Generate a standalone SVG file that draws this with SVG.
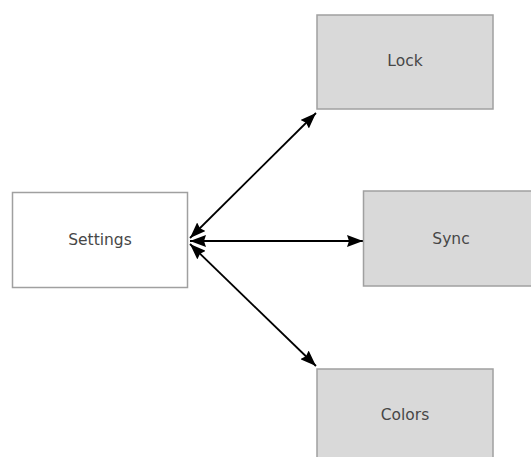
<svg xmlns="http://www.w3.org/2000/svg" width="531" height="457" viewBox="0 0 531 457">
  <style>
    .box { stroke: #a0a0a0; stroke-width: 1.5; }
    .root { fill: #ffffff; }
    .leaf { fill: #d9d9d9; }
    .label { font-family: "DejaVu Sans", "Liberation Sans", sans-serif; font-size: 15.5px; fill: #474747; text-anchor: middle; dominant-baseline: central; }
    .edge { stroke: #000000; stroke-width: 1.8; fill: none; marker-start: url(#head); marker-end: url(#head); }
  </style>
  <defs>
    <!-- filled arrowhead used at both ends of every link -->
    <marker id="head" viewBox="0 0 16 12" refX="16" refY="6" markerWidth="16" markerHeight="12" markerUnits="userSpaceOnUse" orient="auto-start-reverse">
      <path d="M0,0 L16,6 L0,12 L2,6 Z" fill="#000000"/>
    </marker>
  </defs>

  <g id="connectors">
    <line class="edge" x1="190" y1="238" x2="316" y2="113"/>
    <line class="edge" x1="190" y1="241" x2="363" y2="241"/>
    <line class="edge" x1="190" y1="244" x2="316" y2="366"/>
  </g>

  <g id="settings">
    <rect class="box root" x="12.5" y="192.5" width="175" height="95"/>
    <text class="label" x="100" y="240">Settings</text>
  </g>
  <g id="lock">
    <rect class="box leaf" x="317" y="15" width="176" height="94"/>
    <text class="label" x="405" y="61">Lock</text>
  </g>
  <g id="sync">
    <rect class="box leaf" x="363.5" y="191" width="176" height="95"/>
    <text class="label" x="451" y="239">Sync</text>
  </g>
  <g id="colors">
    <rect class="box leaf" x="317" y="369" width="176" height="95"/>
    <text class="label" x="405" y="415">Colors</text>
  </g>
</svg>
